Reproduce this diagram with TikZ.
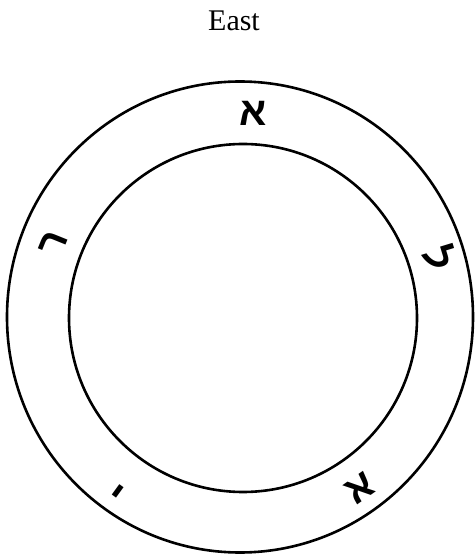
\documentclass[tikz,border=0pt]{standalone}
\usepackage{fontspec}
\setmainfont{Liberation Serif}
\newfontfamily\hebfont[Script=Hebrew]{Liberation Sans}
\begin{document}
\begin{tikzpicture}[x=1pt,y=1pt,
  ring/.style={draw=black,line width=2.6pt},
  heb/.style={font=\hebfont\bfseries\fontsize{40}{40}\selectfont,inner sep=0pt}]
\useasboundingbox (0,0) rectangle (475,558);
\node[font=\fontsize{30}{30}\selectfont] (east) at (234,537) {East};
\draw[ring] (240,241) circle[x radius=233, y radius=235.5];
\draw[ring] (243,240) circle[radius=174];
\node[heb] (l1) at (253,445) {א};
\node[heb,rotate=-73] (l2) at (440,300) {ל};
\node[heb,rotate=68] (l3) at (54,315) {ר};
\node[heb,rotate=144] (l4) at (121,71) {י};
\node[heb,rotate=-145] (l5) at (360,70) {א};
\end{tikzpicture}
\end{document}
